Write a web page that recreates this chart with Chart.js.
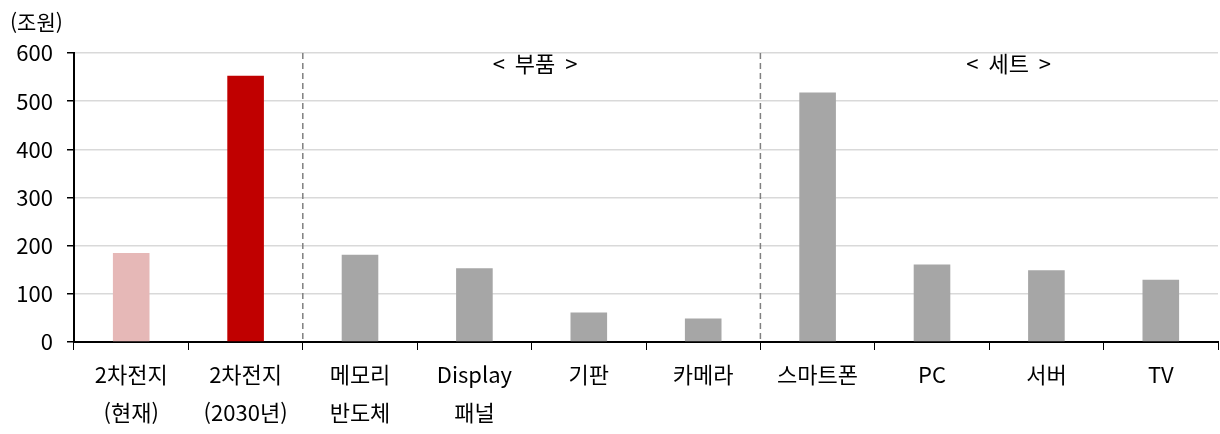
<!DOCTYPE html>
<html lang="ko">
<head>
    <meta charset="UTF-8">
    <title>시장 규모 비교</title>
    <script src="https://cdn.jsdelivr.net/npm/chart.js"></script>
    <style>
        body { margin: 0; background: #fff; }
        .wrap { width: 1220px; height: 434px; }
    </style>
</head>
<body>
    <div class="wrap"><canvas id="marketChart" width="1220" height="434"></canvas></div>

    <script>
        // Data
        const categories = [
            ["2차전지", "(현재)"], ["2차전지", "(2030년)"], ["메모리", "반도체"], ["Display", "패널"],
            ["기판"], ["카메라"], ["스마트폰"], ["PC"], ["서버"], ["TV"]
        ];
        const values = [185, 553, 181, 153, 61, 49, 518, 161, 149, 129];
        const barColors = ["#e6b8b7", "#c00000", "#a6a6a6", "#a6a6a6", "#a6a6a6",
                           "#a6a6a6", "#a6a6a6", "#a6a6a6", "#a6a6a6", "#a6a6a6"];
        const yTicks = [0, 100, 200, 300, 400, 500, 600];
        const unitLabel = "(조원)";
        // sections: label, first index, label position (category units)
        const sections = [["<  부품  >", 2, 3.53], ["<  세트  >", 6, 7.67]];

        const FONT = "'Noto Sans CJK KR', 'Noto Sans', sans-serif";

        // dashed separators + section labels + unit label
        const sectionPlugin = {
            id: "sections",
            afterDatasetsDraw(chart) {
                const { ctx, scales } = chart;
                const x = scales.x, y = scales.y;
                const step = x.getPixelForValue(1) - x.getPixelForValue(0);
                ctx.save();
                sections.forEach(([label, from, pos]) => {
                    const sx = x.getPixelForValue(from) - step / 2;
                    ctx.strokeStyle = "#808080";
                    ctx.lineWidth = 1.5;
                    ctx.setLineDash([6, 4]);
                    ctx.beginPath();
                    ctx.moveTo(sx, y.getPixelForValue(600));
                    ctx.lineTo(sx, y.getPixelForValue(0));
                    ctx.stroke();
                    const cx = x.getPixelForValue(0) + pos * step;
                    ctx.setLineDash([]);
                    ctx.fillStyle = "#000";
                    ctx.font = "22px " + FONT;
                    ctx.textAlign = "center";
                    ctx.textBaseline = "middle";
                    ctx.fillText(label, cx, y.getPixelForValue(578));
                });
                ctx.font = "21px " + FONT;
                ctx.textAlign = "left";
                ctx.textBaseline = "middle";
                ctx.fillStyle = "#000";
                ctx.fillText(unitLabel, 10, 22);
                ctx.restore();
            }
        };

        new Chart(document.getElementById("marketChart"), {
            type: "bar",
            data: {
                labels: categories,
                datasets: [{
                    data: values,
                    backgroundColor: barColors,
                    barPercentage: 0.32,
                    categoryPercentage: 1
                }]
            },
            options: {
                responsive: false,
                animation: false,
                layout: { padding: { top: 53, right: 2, left: 0, bottom: 0 } },
                plugins: { legend: { display: false }, tooltip: { enabled: false } },
                scales: {
                    x: {
                        offset: true,
                        grid: { drawOnChartArea: false, tickLength: 8, tickColor: "#000", offset: true },
                        border: { color: "#000", width: 2 },
                        ticks: { color: "#000", font: { family: FONT, size: 22, lineHeight: 1.73 }, padding: 6, maxRotation: 0 },
                        afterFit(scale) { scale.height = 92; }
                    },
                    y: {
                        min: 0, max: 600,
                        afterBuildTicks(scale) { scale.ticks = yTicks.map(v => ({ value: v })); },
                        grid: { color: "#d9d9d9", lineWidth: 1.5, tickLength: 7, tickColor: "#000" },
                        border: { color: "#000", width: 2 },
                        ticks: { color: "#000", font: { family: FONT, size: 22 }, padding: 14 },
                        afterFit(scale) { scale.width = 74; }
                    }
                }
            },
            plugins: [sectionPlugin]
        });
    </script>
</body>
</html>
